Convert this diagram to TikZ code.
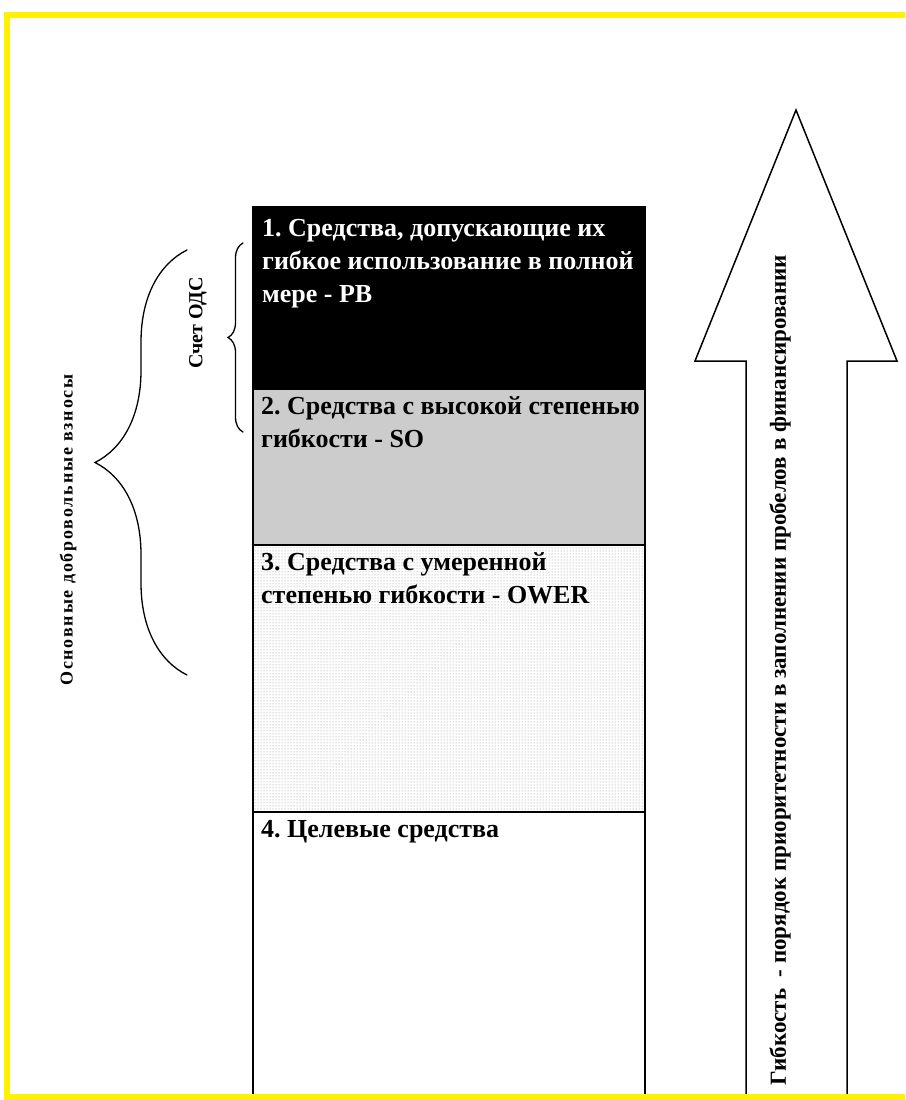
\documentclass[tikz,border=0pt]{standalone}
\usepackage{fontspec}
\setmainfont{Liberation Serif}
\usetikzlibrary{decorations.pathreplacing,patterns}

\tikzset{
  tier/.style={draw=black, line width=2.5pt},
  tiertext/.style={anchor=base west, align=left, inner sep=0pt,
    font=\fontsize{26}{33}\selectfont\bfseries\frenchspacing},
  vlabel/.style={rotate=90, inner sep=0pt},
  bracecurve/.style={decorate, line width=1.3pt, line cap=round},
}

\begin{document}
\begin{tikzpicture}[x=1pt, y=-1pt, line join=miter]
\useasboundingbox (0,0) rectangle (905,1100);
\clip (0,0) rectangle (905,1100);
% column of the four tiers
\fill[black] (253,207) rectangle (645,389);
\fill[black!20] (253,389) rectangle (645,545);
\fill[pattern=dots, pattern color=black!45] (253,545) rectangle (645,812);
\draw[tier] (253,1100) -- (253,207) -- (645,207) -- (645,1100);
\draw[tier] (253,389) -- (645,389) (253,545) -- (645,545) (253,812) -- (645,812);
% base anchor = last line
\node[tiertext, text=white] (pb) at (262,302)
  {1. Средства, допускающие их\\гибкое использование в полной\\мере - PB};
\node[tiertext] (so) at (261,447) {2. Средства с высокой степенью\\гибкости - SO};
\node[tiertext] (ower) at (261,603) {3. Средства с умеренной\\степенью гибкости - OWER};
\node[tiertext] (target) at (261,837) {4. Целевые средства};
% braces
\draw[bracecurve, decoration={brace, amplitude=92pt}] (187,675) -- (187,250);
\draw[bracecurve, decoration={brace, amplitude=15pt}] (243,432) -- (243,243);
\node[vlabel, font=\fontsize{18}{20}\selectfont\bfseries\addfontfeature{LetterSpace=10}]
  (core) at (68,530) {Основные добровольные взносы};
\node[vlabel, font=\fontsize{20}{24}\selectfont\bfseries] (odc) at (198,323) {Счет ОДС};
% block arrow
\draw[line width=1.5pt] (746,1100) -- (746,361) -- (695,361) -- (796,110)
  -- (897,361) -- (847,361) -- (847,1100);
\node[vlabel, font=\fontsize{23}{26}\selectfont\bfseries] (flex) at (780,670)
  {Гибкость\ \ - порядок приоритетности в заполнении пробелов в финансировании};
% frame
\draw[yellow, line width=6pt] (7,15) rectangle (930,1097);
\end{tikzpicture}
\end{document}
